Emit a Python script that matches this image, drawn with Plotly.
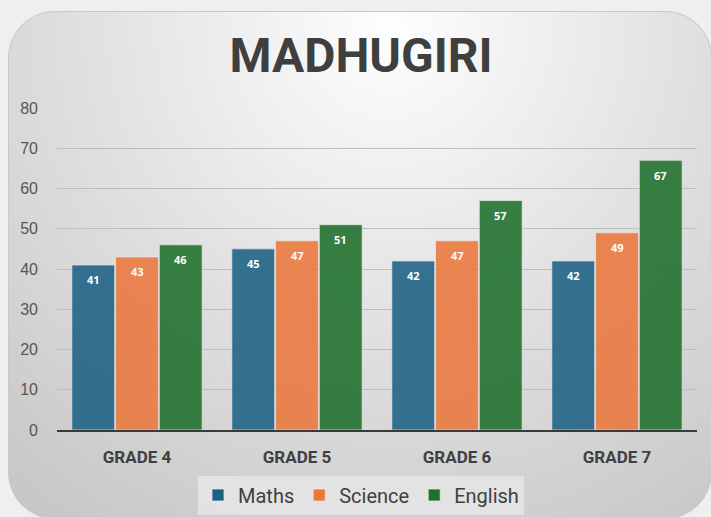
import base64
import plotly.graph_objects as go

categories = ["GRADE 4", "GRADE 5", "GRADE 6", "GRADE 7"]
maths = [41, 45, 42, 42]
science = [43, 47, 47, 49]
english = [46, 51, 57, 67]
series_names = ["Maths", "Science", "English"]
series_colors = ["#1d6185", "#eb773d", "#1e702c"]
y_ticks = [0, 10, 20, 30, 40, 50, 60, 70, 80]

W, H = 711, 517
ML, MR, MT, MB = 57, 14, 108, 87
PW, PH = W - ML - MR, H - MT - MB

BARGAP = 0.18
GROUPGAP = 0.02

svg = f'''<svg xmlns="http://www.w3.org/2000/svg" width="{W}" height="{H}" viewBox="0 0 {W} {H}">
<defs><radialGradient id="g" gradientUnits="userSpaceOnUse" cx="390" cy="30" r="640">
<stop offset="0" stop-color="#fefefe"/><stop offset="0.48" stop-color="#e0e0e0"/><stop offset="1" stop-color="#c3c3c3"/></radialGradient></defs>
<rect width="{W}" height="{H}" fill="#efefef"/>
<rect x="8.5" y="11.5" width="703" height="507" rx="46" fill="url(#g)" stroke="#c9c9c9"/>
</svg>'''
src = "data:image/svg+xml;base64," + base64.b64encode(svg.encode()).decode()

fig = go.Figure()
all_series = [maths, science, english]
for name, vals, col in zip(series_names, all_series, series_colors):
    fig.add_trace(go.Bar(
        name=name, x=categories, y=vals,
        marker=dict(color=col, opacity=0.88, line=dict(color="rgba(235,235,235,0.7)", width=1)),
        hoverinfo="x+y+name",
    ))

# data labels placed just below each bar top
slot = (1 - BARGAP) / 3
annotations = []
for j, vals in enumerate(all_series):
    for i, v in enumerate(vals):
        annotations.append(dict(
            x=i + (j - 1) * slot, y=v, xref="x", yref="y", text=f"<b>{v}</b>",
            showarrow=False, yshift=-15, font=dict(color="white", size=11, family="Open Sans, Arial"),
        ))

fig.update_layout(
    width=W, height=H,
    margin=dict(l=ML, r=MR, t=MT, b=MB, pad=0, autoexpand=False),
    paper_bgcolor="#efefef", plot_bgcolor="rgba(0,0,0,0)",
    barmode="group", bargap=BARGAP, bargroupgap=GROUPGAP,
    title=dict(text="<b>MADHUGIRI</b>", x=(361) / W, xanchor="center", y=1 - 55 / H, yanchor="middle",
               font=dict(size=48, color="#3f3f3f", family="Roboto, Arial")),
    images=[dict(source=src, xref="paper", yref="paper", x=-ML / PW, y=1 + MT / PH,
                 sizex=W / PW, sizey=H / PH, xanchor="left", yanchor="top",
                 sizing="stretch", layer="below")],
    xaxis=dict(showgrid=False, ticks="", showline=True, linecolor="#3a3a3a", linewidth=2,
               tickfont=dict(size=17, color="#404040", family="Roboto, Arial"),
               ticklabelstandoff=11, tickprefix="<b>", ticksuffix="</b>"),
    yaxis=dict(range=[0, 80], tickvals=y_ticks, showgrid=True, gridcolor="#bdbdbd", gridwidth=1,
               zeroline=False, ticks="", showline=False,
               tickfont=dict(size=16, color="#555555", family="Liberation Sans, Arial"),
               ticklabelstandoff=18),
    legend=dict(orientation="h", x=361 / W, xanchor="center", xref="container",
                y=1 - 495 / H, yanchor="middle", yref="container",
                bgcolor="rgba(228,228,228,0.9)", font=dict(size=20, color="#404040",
                family="Roboto, Arial"),
                itemwidth=30, tracegroupgap=0),
    annotations=annotations,
    showlegend=True,
)

fig.write_html("out.html", config={"displayModeBar": False},
               post_script="document.body.style.margin='0';document.body.style.background='#efefef';")
